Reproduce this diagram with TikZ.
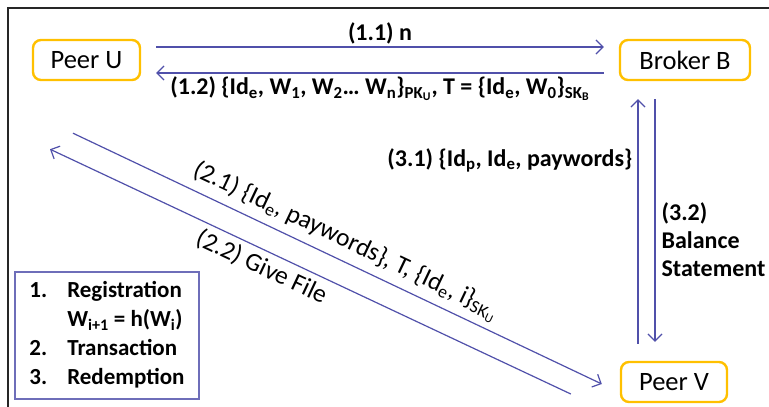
\documentclass[tikz,border=0pt]{standalone}
\usepackage{fontspec}
\setmainfont{Carlito}
\usetikzlibrary{arrows.meta}
\definecolor{arrc}{RGB}{80,80,170}
\definecolor{boxc}{RGB}{255,192,0}
\definecolor{legc}{RGB}{110,110,185}
\newcommand\lo[1]{\textsubscript{#1}}
\begin{document}
\begin{tikzpicture}[x=1pt,y=-1pt,
  peer/.style={draw=boxc, line width=2.4pt, rounded corners=8pt, minimum height=40pt,
    inner sep=0pt, font=\fontsize{26.5}{30}\selectfont},
  msg/.style={draw=arrc, line width=1.2pt, -{Straight Barb[length=7pt,width=14pt]}},
  msgback/.style={draw=arrc, line width=1.2pt, {Straight Barb[length=7pt,width=14pt]}-},
  lbl/.style={font=\fontsize{24}{28}\selectfont\bfseries, inner sep=2pt},
  slbl/.style={font=\fontsize{25.5}{30}\selectfont, inner sep=2pt, sloped},
]
\useasboundingbox (0,0) rectangle (769,407);
% outer frame
\draw[line width=1.2pt, black!85] (8,407) -- (8,8) -- (769,8);

% parties
\node[peer, minimum width=107pt] (pu) at (86.5,60) {Peer U};
\node[peer, minimum width=130pt] (bb) at (685,60) {Broker B};
\node[peer, minimum width=106pt] (pv) at (674,382) {Peer V};

% registration
\draw[msg] ([xshift=15pt,yshift=13pt]pu.east)
  -- node[lbl, above=0pt] {(1.1) n} ([xshift=-15pt,yshift=13pt]bb.west);
\draw[msgback] ([xshift=15pt,yshift=-13pt]pu.east)
  -- node[lbl, below=1pt] {(1.2) \{Id\lo{e}, W\lo{1}, W\lo{2}… W\lo{n}\}\lo{PK\lo{U}}, T = \{Id\lo{e}, W\lo{0}\}\lo{SK\lo{B}}}
  ([xshift=-15pt,yshift=-13pt]bb.west);

% redemption
\draw[msg] ([xshift=-36pt,yshift=17pt]pv.north)
  -- node[lbl, pos=0.75, left=3pt] {(3.1) \{Id\lo{p}, Id\lo{e}, paywords\}}
  ([xshift=-47pt,yshift=-18pt]bb.south);
\draw[msg] ([xshift=-30pt,yshift=-18pt]bb.south)
  -- node[lbl, pos=0.58, right=4pt, align=left] {(3.2)\\Balance\\Statement}
  ([xshift=-19pt,yshift=19pt]pv.north);

% transaction
\draw[msg] ([xshift=-13.5pt,yshift=-52pt]pu.south)
  -- node[slbl, pos=0.5, above=4pt] {(2.1) \{Id\lo{e}, paywords\}, T, \{Id\lo{e}, i\}\lo{SK\lo{U}}}
  ([xshift=-18pt,yshift=-2pt]pv.west);
\draw[msgback] ([xshift=-36.5pt,yshift=-68pt]pu.south)
  -- node[slbl, pos=0.42, below=3pt] {(2.2) Give File}
  ([xshift=-49pt,yshift=-12pt]pv.west);

% legend
\node[draw=legc, line width=1.5pt, minimum width=184pt, minimum height=127pt, inner sep=0pt,
  font=\fontsize{23}{29}\selectfont\bfseries] (leg) at (107,335.5)
  {\begin{tabular}{@{}l@{\hspace{20pt}}l@{}}
   1. & Registration\\
      & W\lo{i+1} = h(W\lo{i})\\
   2. & Transaction\\
   3. & Redemption
   \end{tabular}};
\end{tikzpicture}
\end{document}
